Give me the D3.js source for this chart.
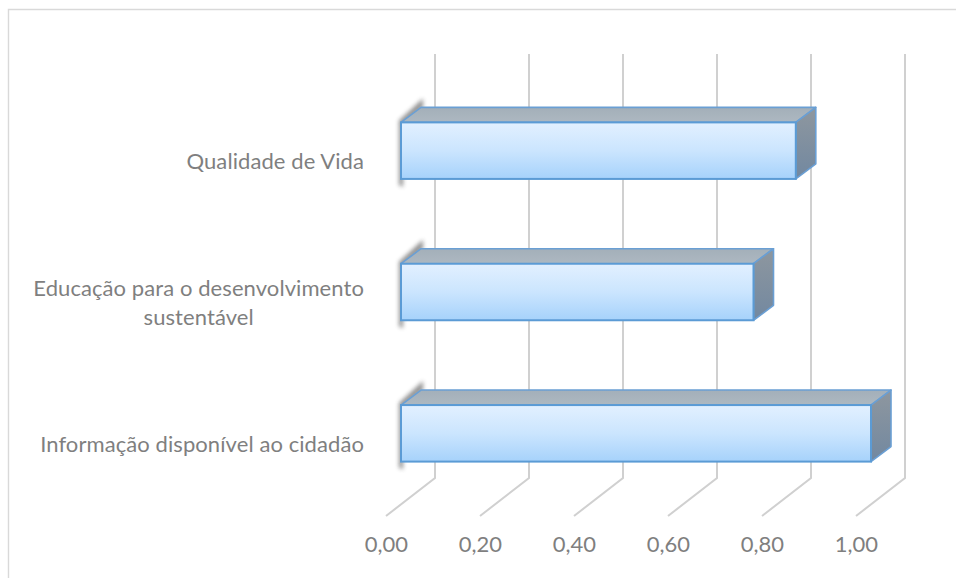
<!DOCTYPE html>
<html>
<head>
<meta charset="utf-8">
<script src="https://cdn.jsdelivr.net/npm/d3@7"></script>
<style>
html, body { margin: 0; padding: 0; background: #fff; }
svg { display: block; }
</style>
</head>
<body>
<svg id="chart"></svg>
<script>
//*************** data ******************//
var categories = ["Qualidade de Vida", "Educação para o desenvolvimento|sustentável", "Informação disponível ao cidadão"];
var values = [0.84, 0.75, 1.00];
var tickValues = [0, 0.2, 0.4, 0.6, 0.8, 1.0];

//*************** initialise ******************//
var width = 956, height = 578;
var svg = d3.select("#chart").attr("width", width).attr("height", height);

var xScale = d3.scaleLinear().domain([0, 1]).range([401, 871]);
var yScale = d3.scaleBand().domain(categories).range([80, 504]).paddingInner(0.6).paddingOuter(0.3);

// 3d offsets of the excel style chart
var depthX = 20, depthY = 15;
var wallX = 34, floorX = -15;
var wallTop = 54, wallBottom = 478, floorBottom = 516;

var fontFamily = "Lato, 'Open Sans', sans-serif";

var defs = svg.append("defs");

var front = defs.append("linearGradient").attr("id", "front").attr("x1", 0).attr("y1", 0).attr("x2", 0).attr("y2", 1);
front.append("stop").attr("offset", "0%").attr("stop-color", "#e2f0ff");
front.append("stop").attr("offset", "50%").attr("stop-color", "#cbe5fe");
front.append("stop").attr("offset", "100%").attr("stop-color", "#a6d2fb");

var top3d = defs.append("linearGradient").attr("id", "top3d").attr("x1", 0).attr("y1", 0).attr("x2", 0).attr("y2", 1);
top3d.append("stop").attr("offset", "0%").attr("stop-color", "#a3afb9");
top3d.append("stop").attr("offset", "100%").attr("stop-color", "#adb8c1");

var side = defs.append("linearGradient").attr("id", "side").attr("x1", 0).attr("y1", 0).attr("x2", 0).attr("y2", 1);
side.append("stop").attr("offset", "0%").attr("stop-color", "#8e979f");
side.append("stop").attr("offset", "100%").attr("stop-color", "#7288a0");

defs.append("filter").attr("id", "blur")
.attr("x", "-50%").attr("y", "-20%").attr("width", "200%").attr("height", "140%")
.append("feGaussianBlur").attr("stdDeviation", 2);

// chart border (only top and left are inside the picture)
svg.append("path")
.attr("d", "M8.5,578V9.5H956")
.attr("fill", "none")
.attr("stroke", "#d9d9d9")
.attr("stroke-width", 1.4);

//--------------- gridlines
var grid = svg.append("g").attr("class", "grid");
grid.selectAll("path")
.data(tickValues)
.enter().append("path")
.attr("d", function(d) {
    var x = xScale(d);
    return "M" + (x + wallX) + "," + wallTop + "V" + wallBottom + "L" + (x + floorX) + "," + floorBottom;
})
.attr("fill", "none")
.attr("stroke", "#d0d0d0")
.attr("stroke-width", 2);

//--------------- x axis labels
var xAxis = d3.axisBottom(xScale)
.tickValues(tickValues)
.tickSize(0)
.tickPadding(0)
.tickFormat(function(d) { return d3.format(".2f")(d).replace(".", ","); });

var x_axis = svg.append("g")
.attr("class", "axis")
.attr("transform", "translate(" + floorX + ",536.4)")
.call(xAxis);
x_axis.select(".domain").remove();
x_axis.selectAll("text")
.attr("font-family", fontFamily)
.attr("font-size", "22px")
.attr("fill", "#7f7f7f");

//--------------- bars
var bars = svg.append("g").attr("class", "bars").selectAll("g")
.data(categories)
.enter().append("g");

function barX1(d, i) { return xScale(values[i]); }

// blurred shadow on the left side
bars.append("path")
.attr("d", function(d) {
    var x0 = xScale(0), y = yScale(d), h = yScale.bandwidth();
    return "M" + (x0 - 2) + "," + (y - 2) + "L" + (x0 + depthX + 2) + "," + (y - depthY - 9)
        + "L" + (x0 + depthX + 2) + "," + (y - depthY) + "L" + (x0 + 2) + "," + (y + 2)
        + "V" + (y + h + 8) + "L" + (x0 - 2) + "," + (y + h + 6) + "Z";
})
.attr("fill", "#555")
.attr("opacity", 0.65)
.attr("filter", "url(#blur)");

// top face
bars.append("path")
.attr("d", function(d, i) {
    var x0 = xScale(0), x1 = barX1(d, i), y = yScale(d);
    return "M" + x0 + "," + y + "L" + (x0 + depthX) + "," + (y - depthY)
        + "H" + (x1 + depthX) + "L" + x1 + "," + y + "Z";
})
.attr("fill", "url(#top3d)")
.attr("stroke", "#6a9fd4")
.attr("stroke-width", 1.6)
.attr("stroke-linejoin", "round");

// side face
bars.append("path")
.attr("d", function(d, i) {
    var x1 = barX1(d, i), y = yScale(d), h = yScale.bandwidth();
    return "M" + x1 + "," + y + "L" + (x1 + depthX) + "," + (y - depthY)
        + "V" + (y + h - depthY) + "L" + x1 + "," + (y + h) + "Z";
})
.attr("fill", "url(#side)")
.attr("stroke", "#6a9fd4")
.attr("stroke-width", 1.6)
.attr("stroke-linejoin", "round");

// front face
bars.append("rect")
.attr("x", xScale(0))
.attr("y", function(d) { return yScale(d); })
.attr("width", function(d, i) { return barX1(d, i) - xScale(0); })
.attr("height", yScale.bandwidth())
.attr("fill", "url(#front)")
.attr("stroke", "#5b9bd5")
.attr("stroke-width", 2);

//--------------- category labels (block right aligned, lines centred)
var labels = svg.append("g").attr("class", "labels");
categories.forEach(function(c) {
    var lines = c.split("|");
    var lineHeight = 29;
    var cy = yScale(c) + yScale.bandwidth() / 2;
    var t = labels.append("text")
    .attr("font-family", fontFamily)
    .attr("font-size", "22px")
    .attr("letter-spacing", "0.08px")
    .attr("fill", "#7f7f7f")
    .attr("text-anchor", "middle");
    lines.forEach(function(l, i) {
        t.append("tspan")
        .attr("x", 0)
        .attr("y", cy + 18.5 + (i - (lines.length - 1) / 2) * lineHeight)
        .text(l);
    });
    var w = t.node().getBBox().width;
    t.attr("transform", "translate(" + (364 - w / 2) + ",0)");
});
</script>
</body>
</html>
